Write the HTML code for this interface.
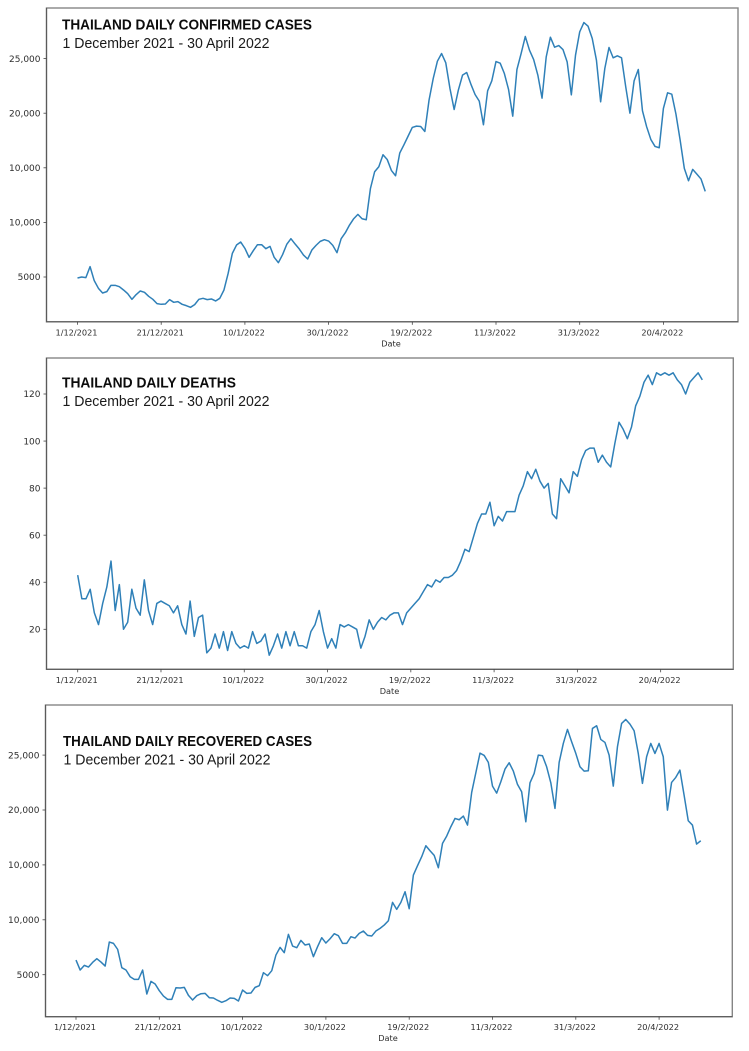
<!DOCTYPE html>
<html lang="en">
<head>
<meta charset="utf-8">
<title>Thailand daily COVID-19 charts</title>
<style>
html,body{margin:0;padding:0;background:#fff;width:749px;height:1051px;overflow:hidden}
svg{display:block}
.title{font-family:"Liberation Sans",sans-serif;font-weight:700;font-size:15px;fill:#0c0c0c}
.sub{font-family:"Liberation Sans",sans-serif;font-size:14.5px;fill:#1a1a1a}
.tick{font-family:"DejaVu Sans",sans-serif;font-size:8.2px;fill:#2e2e2e}
.ytick{font-family:"DejaVu Sans",sans-serif;font-size:9px;fill:#2e2e2e}
</style>
</head>
<body>
<svg id="chart" xmlns="http://www.w3.org/2000/svg" width="749" height="1051" viewBox="0 0 749 1051">
  <text class="title" x="62" y="29.5" textLength="250" lengthAdjust="spacingAndGlyphs">THAILAND DAILY CONFIRMED CASES</text>
  <text class="sub" x="62.5" y="48" textLength="207" lengthAdjust="spacingAndGlyphs">1 December 2021 - 30 April 2022</text>
  <text class="title" x="62" y="387.5" textLength="174" lengthAdjust="spacingAndGlyphs">THAILAND DAILY DEATHS</text>
  <text class="sub" x="62.5" y="406" textLength="207" lengthAdjust="spacingAndGlyphs">1 December 2021 - 30 April 2022</text>
  <text class="title" x="63" y="746" textLength="249" lengthAdjust="spacingAndGlyphs">THAILAND DAILY RECOVERED CASES</text>
  <text class="sub" x="63.5" y="764.5" textLength="207" lengthAdjust="spacingAndGlyphs">1 December 2021 - 30 April 2022</text>
</svg>
<script>
const xTickDays = [0, 20, 40, 60, 80, 100, 120, 140];
const xTickLabels = ["1/12/2021", "21/12/2021", "10/1/2022", "30/1/2022", "19/2/2022", "11/3/2022", "31/3/2022", "20/4/2022"];
const casesTickValues = [5000, 10000, 15000, 20000, 25000];
const casesTickLabels = ["5000", "10,000", "10,000", "20,000", "25,000"];
const deathsTickValues = [20, 40, 60, 80, 100, 120];
const deathsTickLabels = ["20", "40", "60", "80", "100", "120"];

const confirmedValues = [
  4910, 5000, 4940, 5950, 4665, 3963, 3536, 3658, 4237, 4237, 4115, 3810, 3475, 2956, 3383, 3719,
  3597, 3231, 2956, 2560, 2499, 2530, 2926, 2682, 2743, 2499, 2377, 2224, 2468, 2956, 3048, 2926,
  2987, 2804, 3048, 3810, 5335, 7165, 7928, 8202, 7623, 6800, 7410, 7958, 7958, 7592, 7806, 6800,
  6311, 7043, 7989, 8507, 8019, 7562, 7013, 6647, 7470, 7897, 8263, 8416, 8294, 7897, 7226, 8507,
  9056, 9758, 10337, 10734, 10337, 10246, 13113, 14638, 15095, 16193, 15766, 14760, 14272, 16346,
  17108, 17901, 18694, 18816, 18786, 18328, 21195, 23178, 24764, 25465, 24611, 22263, 20341, 22110,
  23483, 23727, 22659, 21714, 21104, 18938, 22049, 22964, 24733, 24581, 23635, 22171, 19731, 24001,
  25465, 27021, 25770, 24916, 23483, 21378, 25160, 26960, 26045, 26197, 25831, 24703, 21683, 25313,
  27448, 28302, 27966, 26838, 24855, 21043, 24093, 26014, 25069, 25252, 25069, 22415, 20006, 22964,
  24001, 20219, 18755, 17596, 16956, 16834, 20433, 21866, 21744, 19914, 17535, 14943, 13814, 14851,
  14424, 13967, 12838
];
const deathsValues = [
  43, 33, 33, 37, 27, 22, 31, 38, 49, 28, 39, 20, 23, 37, 29, 26, 41, 28, 22, 31, 32, 31, 30, 27,
  30, 22, 18, 32, 17, 25, 26, 10, 12, 18, 12, 19, 11, 19, 14, 12, 13, 12, 19, 14, 15, 18, 9, 13,
  18, 12, 19, 13, 19, 13, 13, 12, 19, 22, 28, 19, 12, 16, 12, 22, 21, 22, 21, 20, 12, 17, 24, 20,
  23, 25, 24, 26, 27, 27, 22, 27, 29, 31, 33, 36, 39, 38, 41, 40, 42, 42, 43, 45, 49, 54, 53, 59,
  65, 69, 69, 74, 64, 68, 66, 70, 70, 70, 77, 81, 87, 84, 88, 83, 80, 82, 69, 67, 84, 81, 78, 87,
  85, 92, 96, 97, 97, 91, 94, 91, 89, 99, 108, 105, 101, 106, 115, 119, 125, 128, 124, 129, 128,
  129, 128, 129, 126, 124, 120, 125, 127, 129, 126
];
const recoveredValues = [
  6335, 5425, 5849, 5698, 6123, 6457, 6153, 5789, 7974, 7853, 7306, 5637, 5425, 4818, 4575, 4575,
  5425, 3239, 4393, 4150, 3543, 3057, 2754, 2754, 3816, 3786, 3846, 3118, 2693, 3088, 3270, 3300,
  2905, 2875, 2663, 2481, 2632, 2875, 2845, 2602, 3604, 3300, 3330, 3846, 3998, 5182, 4909, 5364,
  6790, 7488, 7003, 8672, 7610, 7458, 8126, 7701, 7792, 6639, 7549, 8368, 7883, 8277, 8733, 8551,
  7853, 7853, 8460, 8338, 8763, 8975, 8581, 8520, 8975, 9218, 9522, 9916, 11586, 10948, 11586,
  12557, 11009, 14074, 14924, 15744, 16745, 16290, 15865, 14742, 16958, 17625, 18475, 19234, 19112,
  19446, 18627, 21601, 23392, 25182, 24970, 24333, 22178, 21540, 22572, 23726, 24302, 23544, 22329,
  21662, 18930, 22481, 23331, 25000, 24940, 23938, 22481, 20144, 24333, 26063, 27337, 26214, 25152,
  23938, 23544, 23574, 27428, 27671, 26427, 26154, 25000, 22178, 25759, 27884, 28248, 27823, 27216,
  25152, 22421, 24848, 26063, 25152, 26063, 24848, 19993, 22512, 22967, 23635, 21358, 19021, 18627,
  16897, 17200
];

const svgNS = "http://www.w3.org/2000/svg";
const root = document.getElementById("chart");

function makeSvg(tag, attrs, parent) {
  const el = document.createElementNS(svgNS, tag);
  for (const k in attrs) el.setAttribute(k, attrs[k]);
  (parent || root).appendChild(el);
  return el;
}

function drawPanel(panel, values, yTickValues, yTickLabels) {
  const xScale = function (day) { return panel.x0 + day * panel.pxPerDay; };
  const yScale = function (v) {
    return panel.yRef - (v - panel.vRef) * panel.pxPerUnit;
  };

  const group = makeSvg("g", {});
  
  

  const frame = makeSvg("rect", {
    x: panel.left, y: panel.top,
    width: panel.right - panel.left, height: panel.bottom - panel.top,
    fill: "none", stroke: "#858585", "stroke-width": 1.4
  }, group);
  
  

  const leftSpine = makeSvg("path", {
    d: "M" + panel.left + " " + panel.top + "V" + panel.bottom + "H" + panel.right,
    fill: "none", stroke: "#5a5a5a", "stroke-width": 1.1
  }, group);
  
  

  xTickDays.forEach(function (day, i) {
    const x = xScale(day);
    const tick = makeSvg("line", {
      x1: x, x2: x, y1: panel.bottom, y2: panel.bottom + 3,
      stroke: "#444", "stroke-width": 0.8
    }, group);
    
    
    const label = makeSvg("text", {
      x: x - 1, y: panel.bottom + 13.5, "text-anchor": "middle", "class": "tick"
    }, group);
    label.textContent = xTickLabels[i];
    
    
  });

  yTickValues.forEach(function (v, i) {
    const y = yScale(v);
    const tick = makeSvg("line", {
      x1: panel.left - 3, x2: panel.left, y1: y, y2: y,
      stroke: "#444", "stroke-width": 0.8
    }, group);
    
    
    const label = makeSvg("text", {
      x: panel.left - 6, y: y + 3.2, "text-anchor": "end", "class": "ytick"
    }, group);
    label.textContent = yTickLabels[i];
    
    
  });

  const axisTitle = makeSvg("text", {
    x: panel.dateX, y: panel.bottom + 24.5, "text-anchor": "middle", "class": "tick"
  }, group);
  axisTitle.textContent = "Date";
  
  

  const pts = values.map(function (v, i) {
    return xScale(i).toFixed(2) + "," + yScale(v).toFixed(2);
  }).join(" ");
  const line = makeSvg("polyline", {
    points: pts, fill: "none", stroke: "#2f80b8", "stroke-width": 1.5,
    "stroke-linejoin": "round"
  }, group);
  
  
}

drawPanel({
  name: "confirmed", left: 46.5, right: 738, top: 8, bottom: 321.8,
  x0: 77.5, pxPerDay: 4.185, yRef: 277, vRef: 5000, pxPerUnit: 0.01092, dateX: 391
}, confirmedValues, casesTickValues, casesTickLabels);

drawPanel({
  name: "deaths", left: 46.5, right: 733.3, top: 358, bottom: 669.3,
  x0: 77.7, pxPerDay: 4.164, yRef: 629.3, vRef: 20, pxPerUnit: 2.353, dateX: 389.5
}, deathsValues, deathsTickValues, deathsTickLabels);

drawPanel({
  name: "recovered", left: 45.5, right: 732.3, top: 705, bottom: 1016.7,
  x0: 76, pxPerDay: 4.165, yRef: 974.7, vRef: 5000, pxPerUnit: 0.01098, dateX: 388
}, recoveredValues, casesTickValues, casesTickLabels);
</script>
</body>
</html>
